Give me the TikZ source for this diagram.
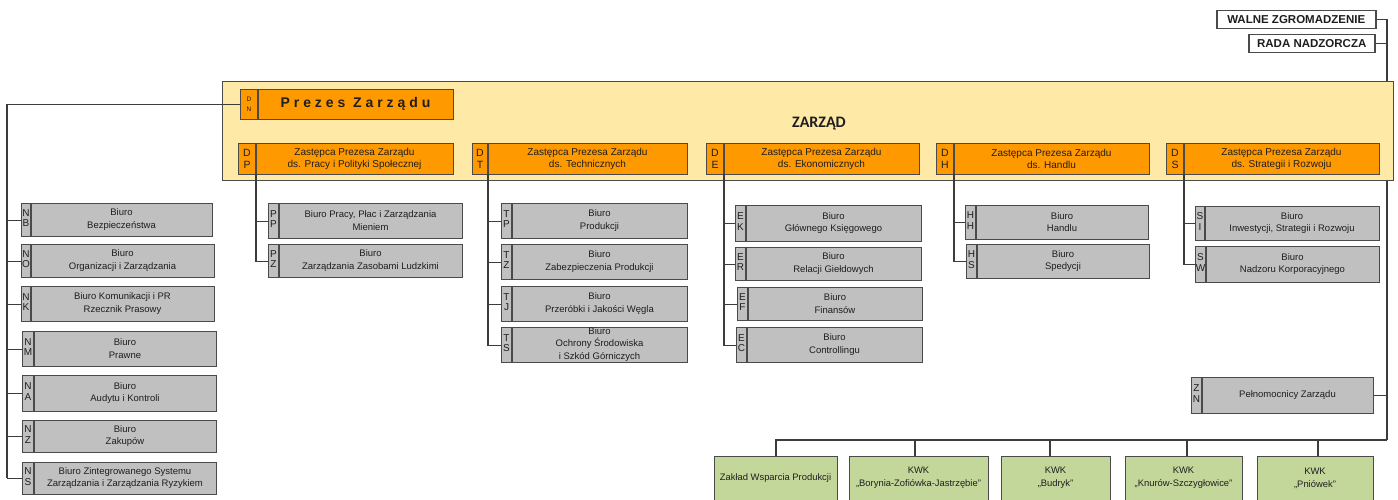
\documentclass[tikz,border=0pt]{standalone}
\usepackage{fontspec}
\setmainfont{Liberation Sans}
\newfontfamily\zfont{Carlito}
\usetikzlibrary{calc}
\definecolor{gbox}{HTML}{C0C0C0}
\definecolor{obox}{HTML}{FF9900}
\definecolor{ybox}{HTML}{FFE9A6}
\definecolor{grn}{HTML}{C4D79B}
\definecolor{edge}{HTML}{4A4A4A}
\definecolor{linec}{HTML}{3C3C3C}
\definecolor{txt}{HTML}{1E1E1E}
\newcommand{\cbox}[9]{%
  \node[#9, anchor=north west, minimum width={(#4-#2)*1pt}, minimum height={(#5-#3)*1pt}] (#1) at (#2,#3) {};
  \draw[divline] (#6,#3) -- (#6,#5);
  \node[#9code] (#1c) at ({(#2+#6)/2}, {(#3+#5)/2}) {#7};
  \node[#9txt] (#1t) at ({(#6+#4)/2}, {(#3+#5)/2}) {#8};
}
\begin{document}
\begin{tikzpicture}[x=1pt,y=-1pt,
  conn/.style={draw=linec, line width=1.1pt},
  gb/.style={draw=edge, line width=1.2pt, fill=gbox, inner sep=0pt},
  ob/.style={draw=edge, line width=1.2pt, fill=obox, inner sep=0pt},
  pr/.style={ob},
  divline/.style={draw=edge, line width=1.2pt},
  gbtxt/.style={align=center, inner sep=0pt, text=txt, font=\fontsize{9.5}{12.5}\selectfont},
  gbcode/.style={align=center, inner sep=0pt, text=txt, font=\fontsize{10}{10.5}\selectfont, yshift=1.5pt},
  obtxt/.style={align=center, inner sep=0pt, text=txt, font=\fontsize{10}{12}\selectfont},
  obcode/.style={align=center, inner sep=0pt, text=txt, font=\fontsize{10.5}{12}\selectfont},
  prtxt/.style={align=center, inner sep=0pt, text=txt, font=\fontsize{14}{16}\selectfont\bfseries\addfontfeature{LetterSpace=28}},
  prcode/.style={align=center, inner sep=0pt, text=txt, font=\fontsize{6.5}{10}\selectfont},
  grb/.style={draw=edge, line width=1.2pt, fill=grn, inner sep=0pt, anchor=north west, minimum height=46pt},
  grtxt/.style={align=center, inner sep=0pt, text=txt, font=\fontsize{9.4}{13}\selectfont},
  topb/.style={draw=edge, line width=1.5pt, fill=white, inner sep=0pt, anchor=north west, text=txt, font=\fontsize{11.5}{13}\selectfont\bfseries},
]
\useasboundingbox (0,0) rectangle (1398,500);
\fill[white] (0,0) rectangle (1398,500);

% top right
\node[topb, minimum width=159pt, minimum height=18pt] (WZ) at (1216,10) {WALNE ZGROMADZENIE};
\node[topb, minimum width=126pt, minimum height=18pt] (RN) at (1248,34) {RADA NADZORCZA};
\coordinate (Rtop) at (1387,81);
\draw[conn] (WZ.east) -| (Rtop);
\draw[conn] (RN.east) -- (RN.east -| Rtop);

% board
\node[draw=edge, line width=1pt, fill=ybox, anchor=north west, minimum width=1171pt, minimum height=99pt, inner sep=0pt] (Y) at (222,81) {};
\node[font=\zfont\fontsize{16}{18}\selectfont\bfseries, text=txt, inner sep=0pt] (ZL) at (819,124) {ZARZĄD};

\cbox{PR}{240}{89}{453}{119}{258}{D\\N}{Prezes Zarządu}{pr}
\cbox{DP}{238}{143}{453}{174}{256}{D\\P}{Zastępca Prezesa Zarządu\\ds. Pracy i Polityki Społecznej}{ob}
\cbox{DT}{472}{143}{687}{174}{488}{D\\T}{Zastępca Prezesa Zarządu\\ds. Technicznych}{ob}
\cbox{DE}{706}{143}{919}{174}{724}{D\\E}{Zastępca Prezesa Zarządu\\ds. Ekonomicznych}{ob}
\cbox{DH}{936}{143}{1149}{174}{954}{D\\H}{Zastępca Prezesa Zarządu\\ds. Handlu}{ob}
\cbox{DS}{1166}{143}{1379}{174}{1184}{D\\S}{Zastępca Prezesa Zarządu\\ds. Strategii i Rozwoju}{ob}

% left column
\cbox{NB}{21}{203}{212}{236}{31}{N\\B}{Biuro\\Bezpieczeństwa}{gb}
\cbox{NO}{21}{244}{214}{277}{31}{N\\O}{Biuro\\Organizacji i Zarządzania}{gb}
\cbox{NK}{21}{286}{214}{321}{31}{N\\K}{Biuro Komunikacji i PR\\Rzecznik Prasowy}{gb}
\cbox{NM}{22}{331}{216}{366}{34}{N\\M}{Biuro\\Prawne}{gb}
\cbox{NA}{22}{375}{216}{411}{34}{N\\A}{Biuro\\Audytu i Kontroli}{gb}
\cbox{NZ}{22}{420}{216}{452}{34}{N\\Z}{Biuro\\Zakupów}{gb}
\cbox{NS}{22}{462}{216}{494}{34}{N\\S}{Biuro Zintegrowanego Systemu\\Zarządzania i Zarządzania Ryzykiem}{gb}
\coordinate (Lb) at (7,478);
\draw[conn] (PR.west) -| (Lb);
\foreach \n in {NB,NO,NK,NM,NA,NZ,NS} \draw[conn] (Lb |- \n.west) -- (\n.west);

% DP column
\cbox{PP}{268}{203}{462}{238}{279}{P\\P}{Biuro Pracy, Płac i Zarządzania\\Mieniem}{gb}
\cbox{PZ}{268}{244}{462}{277}{279}{P\\Z}{Biuro\\Zarządzania Zasobami Ludzkimi}{gb}
\coordinate (DPb) at (256,174);
\foreach \n in {PP,PZ} \draw[conn] (DPb) |- (\n.west);

% DT column
\cbox{TP}{501}{203}{687}{238}{512}{T\\P}{Biuro\\Produkcji}{gb}
\cbox{TZ}{501}{244}{687}{279}{512}{T\\Z}{Biuro\\Zabezpieczenia Produkcji}{gb}
\cbox{TJ}{501}{286}{687}{321}{512}{T\\J}{Biuro\\Przeróbki i Jakości Węgla}{gb}
\cbox{TS}{501}{327}{687}{362}{512}{T\\S}{Biuro\\Ochrony Środowiska\\i Szkód Górniczych}{gb}
\coordinate (DTb) at (488,174);
\foreach \n in {TP,TZ,TJ,TS} \draw[conn] (DTb) |- (\n.west);

% DE column
\cbox{EK}{735}{205}{921}{241}{746}{E\\K}{Biuro\\Głównego Księgowego}{gb}
\cbox{ER}{735}{247}{921}{280}{746}{E\\R}{Biuro\\Relacji Giełdowych}{gb}
\cbox{EF}{737}{287}{922}{320}{748}{E\\F}{Biuro\\Finansów}{gb}
\cbox{EC}{736}{327}{922}{362}{747}{E\\C}{Biuro\\Controllingu}{gb}
\coordinate (DEb) at (724,174);
\foreach \n in {EK,ER,EF,EC} \draw[conn] (DEb) |- (\n.west);

% DH column
\cbox{HH}{965}{205}{1148}{239}{976}{H\\H}{Biuro\\Handlu}{gb}
\cbox{HS}{966}{244}{1149}{278}{977}{H\\S}{Biuro\\Spedycji}{gb}
\coordinate (DHb) at (954,174);
\foreach \n in {HH,HS} \draw[conn] (DHb) |- (\n.west);

% DS column
\cbox{SI}{1195}{206}{1379}{240}{1205}{S\\I}{Biuro\\Inwestycji, Strategii i Rozwoju}{gb}
\cbox{SW}{1195}{246}{1379}{282}{1206}{S\\W}{Biuro\\Nadzoru Korporacyjnego}{gb}
\coordinate (DSb) at (1184,174);
\foreach \n in {SI,SW} \draw[conn] (DSb) |- (\n.west);

% plenipotentiaries and mines
\cbox{ZN}{1191}{377}{1373}{413}{1202}{Z\\N}{Pełnomocnicy Zarządu}{gb}
\node[grb, minimum width=123pt] (ZWP) at (714,456) {};
\node[grb, minimum width=139pt] (BOR) at (849,456) {};
\node[grb, minimum width=109pt] (BUD) at (1001,456) {};
\node[grb, minimum width=117pt] (KNU) at (1125,456) {};
\node[grb, minimum width=116pt] (PNI) at (1257,456) {};
\node[grtxt] (ZWPt) at (775.5,478) {Zakład Wsparcia Produkcji};
\node[grtxt] (BORt) at (918.5,478) {KWK\\„Borynia-Zofiówka-Jastrzębie”};
\node[grtxt] (BUDt) at (1055.5,478) {KWK\\„Budryk”};
\node[grtxt] (KNUt) at (1183.5,478) {KWK\\„Knurów-Szczygłowice”};
\node[grtxt] (PNIt) at (1315,478) {KWK\\„Pniówek”};
\coordinate (Rbot) at (1387,440);
\draw[conn] (Y.south -| Rbot) -- (Rbot);
\draw[conn] (ZN.east) -- (ZN.east -| Rbot);
\draw[conn] ($(ZWP.north west)+(62,0)$) |- (Rbot);
\draw[conn] ($(BOR.north west)+(66,0)$) |- (Rbot);
\draw[conn] ($(BUD.north west)+(49,0)$) |- (Rbot);
\draw[conn] ($(KNU.north west)+(62,0)$) |- (Rbot);
\draw[conn] ($(PNI.north west)+(61,0)$) |- (Rbot);
\end{tikzpicture}
\end{document}
